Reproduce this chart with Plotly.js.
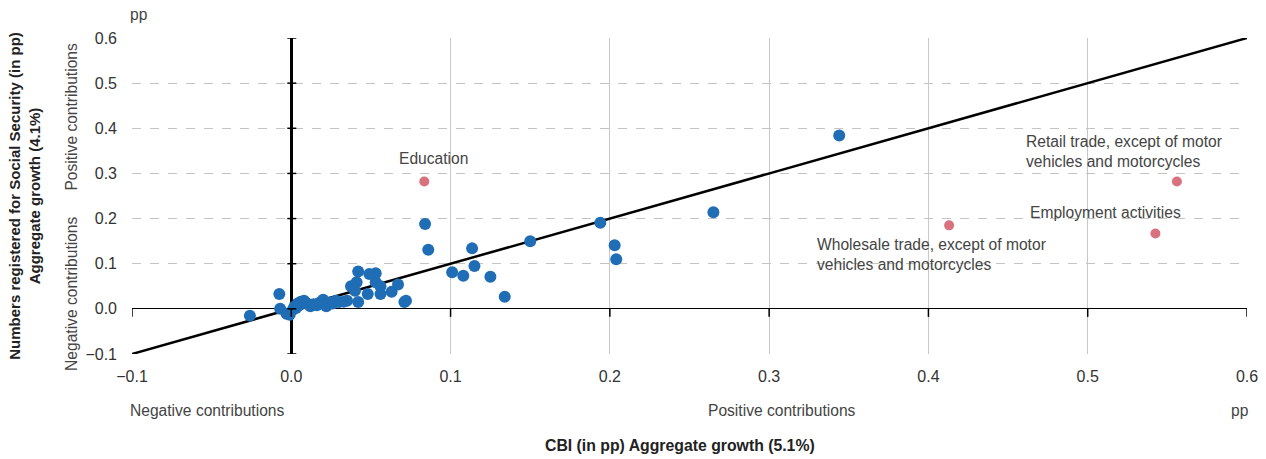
<!DOCTYPE html>
<html>
<head>
<meta charset="utf-8">
<script src="https://cdn.plot.ly/plotly-3.0.1.min.js"></script>
<style>html,body{margin:0;padding:0;background:#fff;}#chart{width:1266px;height:459px;}</style>
</head>
<body>
<div id="chart"></div>
<script>
// Blue: sectors (CBI contribution, Social Security contribution), in pp
const sectorX = [-0.026, -0.0075, -0.007, -0.003, -0.001, 0.001, 0.002, 0.003, 0.004, 0.005, 0.006, 0.008, 0.010, 0.012, 0.014, 0.016, 0.018, 0.020, 0.022, 0.024, 0.026, 0.028, 0.030, 0.033, 0.035, 0.0375, 0.040, 0.041, 0.042, 0.042, 0.048, 0.049, 0.053, 0.053, 0.056, 0.056, 0.063, 0.067, 0.071, 0.072, 0.084, 0.086, 0.101, 0.108, 0.1135, 0.115, 0.125, 0.134, 0.150, 0.194, 0.203, 0.204, 0.265, 0.344];
const sectorY = [-0.015, 0.033, 0.000, -0.011, -0.013, -0.002, 0.005, 0.002, 0.012, 0.008, 0.016, 0.018, 0.012, 0.006, 0.010, 0.008, 0.014, 0.020, 0.006, 0.014, 0.012, 0.018, 0.015, 0.016, 0.018, 0.050, 0.040, 0.059, 0.083, 0.015, 0.033, 0.077, 0.079, 0.059, 0.050, 0.033, 0.038, 0.054, 0.015, 0.018, 0.188, 0.131, 0.081, 0.0735, 0.134, 0.095, 0.071, 0.027, 0.150, 0.1905, 0.141, 0.110, 0.214, 0.384];
// Pink: highlighted sectors
const highlightNames = ["Education", "Wholesale trade, except of motor<br>vehicles and motorcycles", "Employment activities", "Retail trade, except of motor<br>vehicles and motorcycles"];
const highlightX = [0.0835, 0.413, 0.5425, 0.556];
const highlightY = [0.282, 0.185, 0.167, 0.282];
// 45-degree reference line
const lineX = [-0.1, 0.6];
const lineY = [-0.1, 0.6];
// Tick values
const xTicks = [-0.1, 0.0, 0.1, 0.2, 0.3, 0.4, 0.5, 0.6];
const yTicks = [-0.1, 0.0, 0.1, 0.2, 0.3, 0.4, 0.5, 0.6];

const FONT = "Liberation Sans, Arial, sans-serif";
const TXT = "#444";
const ANN = 15.6;

const traces = [
  {x: lineX, y: lineY, mode: "lines", type: "scatter", line: {color: "#000", width: 2.5}, hoverinfo: "skip", showlegend: false},
  {x: sectorX, y: sectorY, mode: "markers", type: "scatter", marker: {color: "#1f6db5", size: 12}, showlegend: false},
  {x: highlightX, y: highlightY, mode: "markers", type: "scatter", marker: {color: "#d9717f", size: 10}, text: highlightNames, showlegend: false}
];

const shapes = [];
// small ticks across the vertical zero line
yTicks.forEach(v => shapes.push({type: "line", xref: "x", yref: "y", xsizemode: "pixel", xanchor: 0, x0: -4, x1: 5, y0: v, y1: v, line: {color: "#000", width: 1.5}, layer: "above"}));
// small ticks across the horizontal zero line
xTicks.forEach(v => shapes.push({type: "line", xref: "x", yref: "y", ysizemode: "pixel", yanchor: 0, y0: -8, y1: 0, x0: v, x1: v, line: {color: "#000", width: 1.5}, layer: "above"}));

const annTxt = (text, x, y, xanchor, extra) => Object.assign({text: text, x: x, y: y, xanchor: xanchor, yanchor: "middle", showarrow: false, align: "left", font: {family: FONT, size: ANN, color: TXT}}, extra || {});

const annotations = [
  annTxt(highlightNames[0], highlightX[0] - 0.017, highlightY[0] + 0.052, "left", {xref: "x", yref: "y"}),
  annTxt(highlightNames[1], highlightX[1] - 0.084, highlightY[1] - 0.065, "left", {xref: "x", yref: "y"}),
  annTxt(highlightNames[2], highlightX[2] - 0.080, highlightY[2] + 0.046, "left", {xref: "x", yref: "y"}),
  annTxt(highlightNames[3], highlightX[3] - 0.096, highlightY[3] + 0.066, "left", {xref: "x", yref: "y"}),
  annTxt("pp", 0, 1, "center", {xref: "paper", yref: "paper", xshift: 7, yshift: 24}),
  annTxt("pp", 1, 0, "center", {xref: "paper", yref: "paper", xshift: -7, yshift: -56}),
  annTxt("Negative contributions", 0, 0, "left", {xref: "paper", yref: "paper", xshift: -4, yshift: -56}),
  annTxt("Positive contributions", 0.308, 0, "center", {xref: "x", yref: "paper", yshift: -56}),
  annTxt("Positive contributions", 0, 0.426, "center", {xref: "paper", yref: "y", xshift: -60, textangle: -90}),
  annTxt("Negative contributions", 0, 0.033, "center", {xref: "paper", yref: "y", xshift: -60, textangle: -90}),
  // x-axis title
  {text: "<b>CBI (in pp) Aggregate growth (5.1%)</b>", xref: "paper", yref: "paper", x: 0.5, y: 0, xanchor: "center", yanchor: "middle", xshift: -10, yshift: -91, showarrow: false, font: {family: FONT, size: 15.8, color: "#222"}}
];

const layout = {
  width: 1266, height: 459,
  margin: {l: 132, r: 19, t: 38, b: 105},
  paper_bgcolor: "#fff", plot_bgcolor: "#fff",
  font: {family: FONT, size: 16, color: "#333"},
  showlegend: false,
  hovermode: "closest",
  xaxis: {
    range: [-0.1, 0.6], tickvals: xTicks, tickformat: ".1f",
    showgrid: true, gridcolor: "#c8c8c8", gridwidth: 1,
    zeroline: true, zerolinecolor: "#000", zerolinewidth: 2.5,
    showline: false, ticks: "", ticklabelstandoff: 11,
    tickfont: {family: FONT, size: 16, color: "#333"},
    automargin: false
  },
  yaxis: {
    range: [-0.1, 0.6], tickvals: yTicks, tickformat: ".1f",
    showgrid: true, gridcolor: "#c4c4c4", gridwidth: 1, griddash: "dash",
    zeroline: true, zerolinecolor: "#000", zerolinewidth: 1.2,
    showline: false, ticks: "", ticklabelstandoff: 14,
    tickfont: {family: FONT, size: 16, color: "#333"},
    title: {text: "<b>Numbers registered for Social Security (in pp)<br>Aggregate growth (4.1%)</b>", standoff: 41, font: {family: FONT, size: 15, color: "#222"}},
    automargin: false
  },
  shapes: shapes,
  annotations: annotations
};

Plotly.newPlot("chart", traces, layout, {displayModeBar: false, staticPlot: true});
</script>
</body>
</html>
